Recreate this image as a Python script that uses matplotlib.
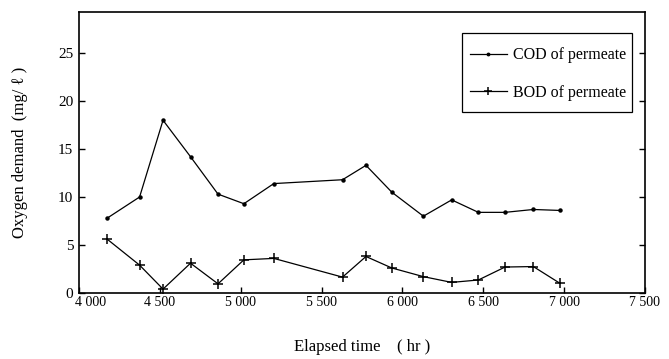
import matplotlib
matplotlib.use("Agg")
import matplotlib.pyplot as plt
import matplotlib.transforms as mtransforms
from matplotlib.patches import Rectangle

plt.rcParams['font.family'] = ['Liberation Serif', 'DejaVu Serif']

# sampling times (hr) shared by both series
elapsed_hr = [4175, 4375, 4520, 4690, 4860, 5020, 5205, 5630,
              5775, 5935, 6130, 6305, 6470, 6635, 6810, 6975]
cod = [7.8, 10.0, 18.0, 14.2, 10.3, 9.3, 11.4, 11.8,
       13.3, 10.5, 8.0, 9.7, 8.4, 8.4, 8.7, 8.6]
bod = [5.6, 2.9, 0.4, 3.1, 0.95, 3.45, 3.6, 1.65,
       3.8, 2.6, 1.7, 1.1, 1.35, 2.7, 2.75, 1.0]

x_ticks = [4000, 4500, 5000, 5500, 6000, 6500, 7000, 7500]
x_labels = ['4 000', '4 500', '5 000', '5 500', '6 000', '6 500', '7 000', '7 500']
y_ticks = [0, 5, 10, 15, 20, 25]

fig = plt.figure(figsize=(6.69, 3.59), dpi=100)
ax = fig.add_axes([0.118, 0.184, 0.846, 0.783])

ax.plot(elapsed_hr, cod, color='black', lw=0.9, marker='o', ms=2.2,
        label='COD of permeate')
ax.plot(elapsed_hr, bod, color='black', lw=0.9, marker='+', ms=7, mew=1.1,
        label='BOD of permeate')

ax.set_xlim(4000, 7500)
ax.set_ylim(0, 29.3)
ax.set_xticks(x_ticks)
ax.set_xticklabels(x_labels, fontsize=10)
ax.set_yticks(y_ticks)
ax.set_yticklabels([str(v) for v in y_ticks], fontsize=11)
ax.tick_params(axis='x', direction='in', length=4, width=1, pad=2)
ax.tick_params(axis='y', direction='in', length=4, width=1, right=True, pad=4)
for s in ax.spines.values():
    s.set_linewidth(1.2)

# nudge the first x label off the y-axis "0"
first = ax.get_xticklabels()[0]
first.set_transform(first.get_transform() +
                    mtransforms.ScaledTranslation(0.12, 0, fig.dpi_scale_trans))

ax.set_xlabel('Elapsed time    ( hr )', fontsize=12, labelpad=22)
ax.set_ylabel('Oxygen demand  (mg/ ℓ )', fontsize=12, labelpad=22)

# legend box drawn separately so its padding can be taller than wide
ax.add_patch(Rectangle((0.677, 0.644), 0.300, 0.281, transform=ax.transAxes,
                       fill=False, edgecolor='black', lw=0.9, zorder=5))
leg = ax.legend(loc='center', bbox_to_anchor=(0.829, 0.779), fontsize=11.5,
                frameon=False, handlelength=2.3, labelspacing=1.35,
                borderpad=0, handletextpad=0.4, markerscale=0.8)

fig.savefig('out.png', dpi=100)
